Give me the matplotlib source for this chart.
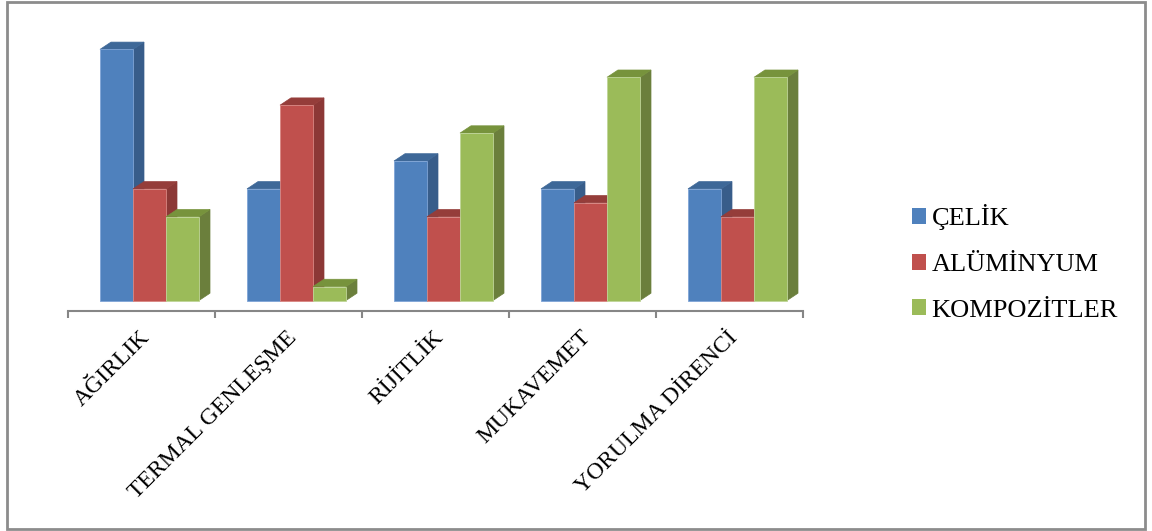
import matplotlib.pyplot as plt
from matplotlib.patches import Polygon, Patch, Rectangle
import numpy as np

categories = ["AĞIRLIK", "TERMAL GENLEŞME", "RİJİTLİK", "MUKAVEMET", "YORULMA DİRENCİ"]
series_names = ["ÇELİK", "ALÜMİNYUM", "KOMPOZİTLER"]
celik = [9, 4, 5, 4, 4]
aluminyum = [4, 7, 3, 3.5, 3]
kompozit = [3, 0.5, 6, 8, 8]

# front, side, top colours (Excel 2007 style)
front_colors = ["#4F81BD", "#C0504D", "#9BBB59"]
side_colors = ["#385D8A", "#8C3836", "#6B7F3C"]
top_colors = ["#3E6898", "#953D3A", "#77933C"]
edge_colors = ["#7FA4D6", "#D98682", "#BFD598"]

W, H = 1152, 531
fig = plt.figure(figsize=(W / 100, H / 100), dpi=100)
plt.rcParams['font.family'] = ['Liberation Serif', 'DejaVu Serif']

# pixel layout of the plot area
px_left, px_right = 68, 803
px_axis, px_top = 311, 40
px_unit = 27.9          # pixels per value unit
floor_gap = 10.5        # px between bar floor and axis line
ax = fig.add_axes([px_left / W, 1 - px_axis / H,
                   (px_right - px_left) / W, (px_axis - px_top) / H])
ymin = -floor_gap / px_unit
ax.set_xlim(-0.5, len(categories) - 0.5)
ax.set_ylim(ymin, ymin + (px_axis - px_top) / px_unit)

x_unit = (px_right - px_left) / len(categories)
w = 33 / x_unit
dx = 11 / x_unit
dy = 7.3 / px_unit
first_off = (100 - px_left) / x_unit - 0.5

data = [celik, aluminyum, kompozit]
x = np.arange(len(categories))
z = 2
for i in x:
    for j, vals in enumerate(data):
        h = vals[i]
        x0 = i + first_off + j * w
        x1 = x0 + w
        side = Polygon([(x1, 0), (x1 + dx, dy), (x1 + dx, h + dy), (x1, h)],
                       closed=True, facecolor=side_colors[j], edgecolor=side_colors[j],
                       lw=0.5, zorder=z, clip_on=False)
        top = Polygon([(x0, h), (x0 + dx, h + dy), (x1 + dx, h + dy), (x1, h)],
                      closed=True, facecolor=top_colors[j], edgecolor=top_colors[j],
                      lw=0.5, zorder=z, clip_on=False)
        ax.add_patch(side)
        ax.add_patch(top)
        ax.bar(x0, h, width=w, align='edge', color=front_colors[j],
               edgecolor=edge_colors[j], linewidth=0.6, zorder=z + 1, clip_on=False)
        z += 2

for s in ["top", "left", "right"]:
    ax.spines[s].set_visible(False)
ax.spines["bottom"].set_color("#868686")
ax.spines["bottom"].set_linewidth(1.5)
ax.set_yticks([])
ax.set_xticks(np.arange(len(categories) + 1) - 0.5)
ax.set_xticklabels([])
ax.tick_params(axis='x', length=5, width=1.5, color="#868686")

for i, name in enumerate(categories):
    ax.text(i - 0.015, ymin - 16 / px_unit, name, rotation=45, rotation_mode='anchor',
            ha='right', va='top', fontsize=17)

handles = [Patch(facecolor=c, edgecolor='none') for c in front_colors]
fig.legend(handles, series_names, loc='center left',
           bbox_to_anchor=(888 / W, 1 - 263 / H), frameon=False, fontsize=19,
           handlelength=0.55, handleheight=0.55, handletextpad=0.2, labelspacing=0.88)

fig.patches.append(Rectangle((7 / W, 2 / H), (1145 - 7) / W, (529 - 2) / H,
                             transform=fig.transFigure, fill=False,
                             edgecolor="#8C8C8C", linewidth=2))

fig.savefig("out.png", dpi=100)
